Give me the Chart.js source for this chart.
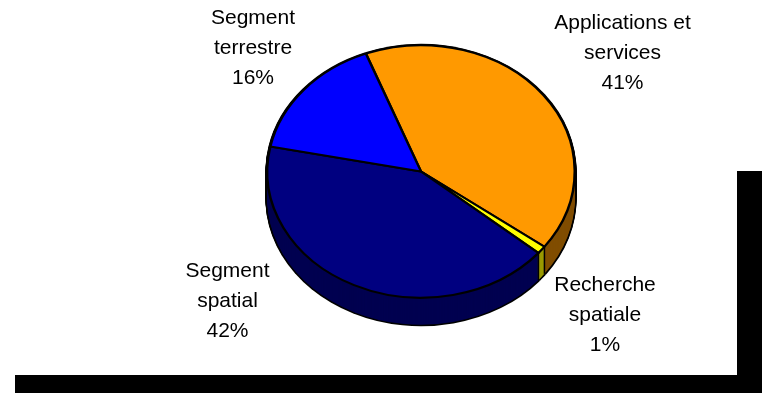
<!DOCTYPE html>
<html><head><meta charset="utf-8">
<style>html,body{margin:0;padding:0;background:#fff}#w{width:765px;height:393px;position:relative}</style>
<script src="https://cdn.jsdelivr.net/npm/chart.js@4"></script>
</head><body><div id="w"><canvas id="c" width="765" height="393"></canvas></div>
<script>
const categories = ["Applications et services","Recherche spatiale","Segment spatial","Segment terrestre"];
const shares = [41,1,42,16];
const topColors = ["#FF9900","#FFFF00","#000080","#0000FF"];
const sideColors = ["#804D00","#9A9A00","#000050","#000080"];
const labelLines = [["Applications et","services"],["Recherche","spatiale"],["Segment","spatial"],["Segment","terrestre"]];
const labelAnchors = [[622.5,23],[605,285],[227.5,271],[253,18]];
const squash = 0.821, depth = 27, startAngle = -21;

const pie3d = {
  id:'pie3d',
  beforeDatasetsDraw(chart){
    const ctx = chart.ctx, arcs = chart.getDatasetMeta(0).data;
    const cx = arcs[0].x, cy = arcs[0].y;
    // frame shadow
    ctx.save();
    ctx.fillStyle = '#000';
    ctx.fillRect(737,171,25,204);
    ctx.fillRect(15,375,747,18);
    ctx.restore();
    const layer = (d, grow, colorOf) => {
      ctx.save();
      ctx.translate(cx, cy + d);
      ctx.scale(grow, squash * grow);
      ctx.translate(-cx, -cy);
      arcs.forEach((a,i)=>{
        const o = a.options;
        a.options = Object.assign({}, o, {backgroundColor: colorOf(i), borderColor: colorOf(i), borderWidth: 0});
        a.draw(ctx);
        a.options = o;
      });
      ctx.restore();
    };
    for (let d = depth; d >= 0; d--) layer(d, 1.012, ()=>'#000');
    for (let d = depth; d >= 1; d--) layer(d, 1, i=>sideColors[i]);
    // seams between the wall segments, from the arcs' own end angles
    ctx.save();
    ctx.strokeStyle = '#000';
    ctx.lineWidth = 1.5;
    arcs.slice(0,2).forEach(a=>{
      const x = cx + a.outerRadius*Math.cos(a.endAngle);
      const y = cy + a.outerRadius*Math.sin(a.endAngle)*squash;
      ctx.beginPath(); ctx.moveTo(x,y); ctx.lineTo(x,y+depth); ctx.stroke();
    });
    ctx.restore();
    ctx.save();
    ctx.translate(cx, cy);
    ctx.scale(1, squash);
    ctx.translate(-cx, -cy);
  },
  afterDatasetsDraw(chart){
    chart.ctx.restore();
    const ctx = chart.ctx;
    ctx.save();
    ctx.fillStyle = '#000';
    ctx.font = '21px "Liberation Sans"';
    ctx.textAlign = 'center';
    ctx.textBaseline = 'middle';
    categories.forEach((_,i)=>{
      const [x,y] = labelAnchors[i];
      const lines = labelLines[i].concat(shares[i]+'%');
      lines.forEach((t,k)=>ctx.fillText(t,x,y+k*30));
    });
    ctx.restore();
  }
};

new Chart(document.getElementById('c'),{
  type:'pie',
  data:{labels:categories,datasets:[{data:shares,backgroundColor:topColors,borderColor:'#000',borderWidth:2.5,borderAlign:'center'}]},
  options:{
    responsive:false,animation:false,rotation:startAngle,
    layout:{padding:{left:266,right:189,top:16.5,bottom:66.5}},
    plugins:{legend:{display:false},tooltip:{enabled:false},title:{display:false}}
  },
  plugins:[pie3d]
});
</script></body></html>
